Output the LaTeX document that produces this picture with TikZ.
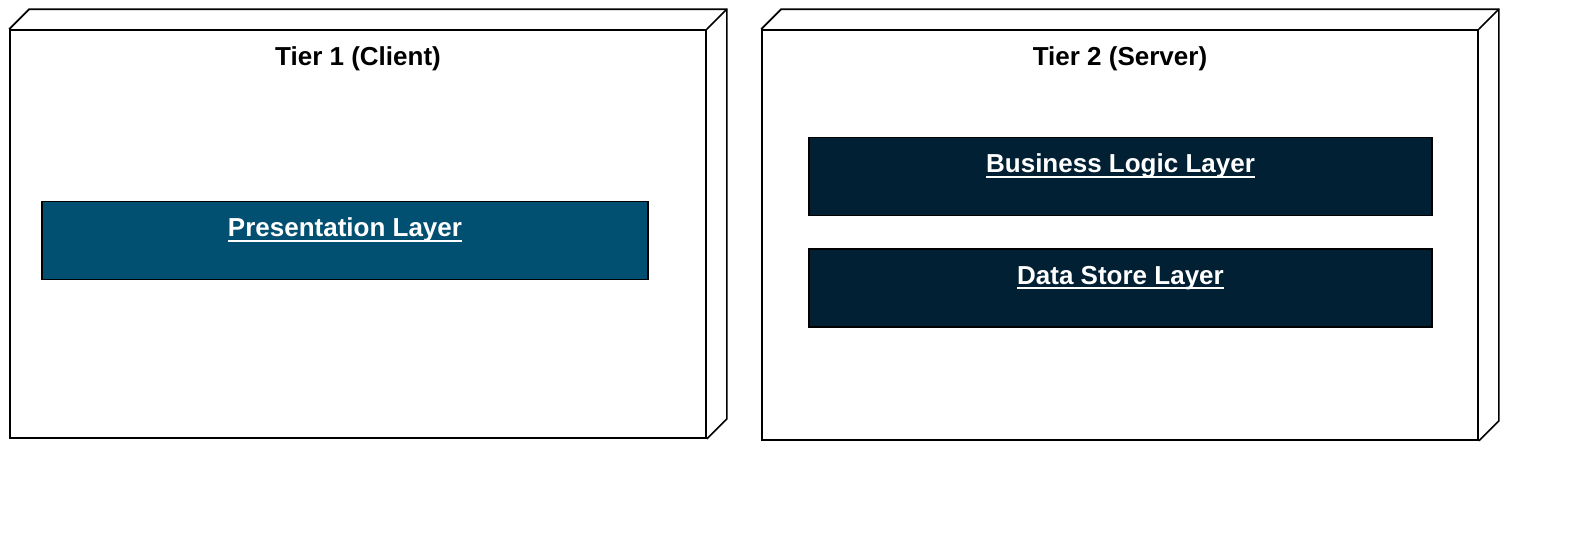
\documentclass[tikz,border=0pt]{standalone}
\usepackage{fontspec}
\setmainfont{Liberation Sans}
\usepackage{tikz}

\definecolor{preslayer}{HTML}{025071}
\definecolor{srvlayer}{HTML}{012033}
\newcommand{\ultext}[1]{\setbox0=\hbox{#1}\rlap{\raisebox{-2.6pt}{\rule{\wd0}{1pt}}}\box0}

\begin{document}
\begin{tikzpicture}[x=0.5pt,y=-0.5pt,
  tierbox/.style={draw,line width=0.85pt,fill=white,inner sep=0pt},
  layerbox/.style={draw,line width=0.85pt,inner sep=0pt,minimum height=39pt},
  boxtext/.style={font=\fontsize{13pt}{15pt}\selectfont\bfseries,inner sep=0pt,anchor=base}]
\useasboundingbox (0,0) rectangle (1588,532);
% the two tiers
\node[tierbox,minimum width=348pt,minimum height=204pt] (tier1) at (358,234) {};
\node[tierbox,minimum width=358pt,minimum height=205pt] (tier2) at (1120,235) {};
\foreach \t in {tier1,tier2} {
  \draw[line width=0.85pt] (\t.north west) -- ++(20,-20) -- ([shift={(20,-20)}]\t.north east)
    -- ([shift={(20,-20)}]\t.south east) -- (\t.south east);
  \draw[line width=0.85pt] (\t.north east) -- ++(20,-20);
}
\node[boxtext] (tier1title) at ([yshift=-18pt]tier1.north) {Tier 1 (Client)};
\node[boxtext] (tier2title) at ([yshift=-18pt]tier2.north) {Tier 2 (Server)};
% layers
\node[layerbox,fill=preslayer,minimum width=303pt] (pres) at (345,240.5) {};
\node[layerbox,fill=srvlayer,minimum width=311.5pt] (logic) at (1120.5,176.5) {};
\node[layerbox,fill=srvlayer,minimum width=311.5pt] (store) at (1120.5,288) {};
\node[boxtext,white] (prestxt) at ([yshift=-18pt]pres.north) {\ultext{Presentation Layer}};
\node[boxtext,white] (logictxt) at ([yshift=-18pt]logic.north) {\ultext{Business Logic Layer}};
\node[boxtext,white] (storetxt) at ([yshift=-18pt]store.north) {\ultext{Data Store Layer}};
\end{tikzpicture}
\end{document}
